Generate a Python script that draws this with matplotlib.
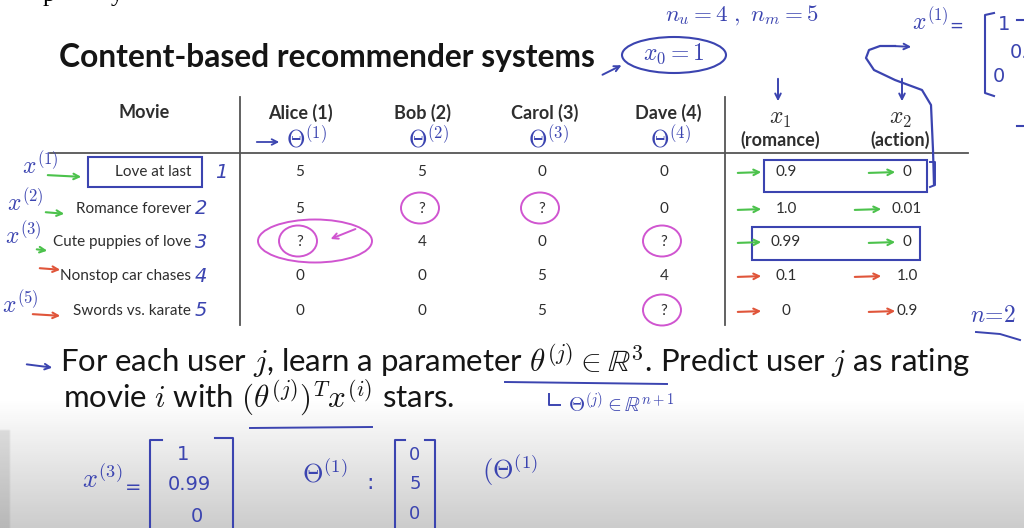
import numpy as np
import matplotlib.pyplot as plt
from matplotlib.patches import Ellipse, Rectangle

plt.rcParams['mathtext.fontset'] = 'cm'

# slide content
title = 'Content-based recommender systems'
movies = ['Love at last', 'Romance forever', 'Cute puppies of love',
          'Nonstop car chases', 'Swords vs. karate']
users = ['Alice (1)', 'Bob (2)', 'Carol (3)', 'Dave (4)']
alice = ['5', '5', '?', '0', '0']
bob = ['5', '?', '4', '0', '0']
carol = ['0', '?', '0', '5', '5']
dave = ['0', '0', '?', '4', '?']
x1 = ['0.9', '1.0', '0.99', '0.1', '0']
x2 = ['0', '0.01', '0', '1.0', '0.9']
ratings = [alice, bob, carol, dave]

PEN = '#3b44b0'
PINK = '#d055d0'
GREEN = '#4cc24c'
RED = '#e0553a'
INK = '#2e2e2e'
BODY = 'Lato'

fig = plt.figure(figsize=(10.24, 5.28), dpi=100)
ax = fig.add_axes([0, 0, 1, 1])
ax.set_xlim(0, 1024)
ax.set_ylim(528, 0)
ax.axis('off')
rend = fig.canvas.get_renderer()


def fit(t, width):
    # scale a text so that it spans the given number of pixels
    w = t.get_window_extent(rend).width
    t.set_fontsize(t.get_fontsize() * width / w)
    return t.get_fontsize()


# background: white with gray fade at the bottom
yy = np.linspace(0, 528, 264)
col = np.where(yy < 400, 1.0, 1.0 - 0.2 * ((yy - 400) / 128.0))
bg = np.tile(col[:, None], (1, 512))
bg[yy > 430, :5] *= 0.9
ax.imshow(bg, extent=[0, 1024, 528, 0], cmap='gray', vmin=0, vmax=1,
          aspect='auto', zorder=0, interpolation='bilinear')

# cut-off text line at the very top
ax.text(43, 1, 'p', fontsize=18, family='Liberation Serif', va='baseline')
ax.text(111, 1, 'y', fontsize=18, family='Liberation Serif', va='baseline')

t = ax.text(59, 67, title, fontsize=21, fontweight='bold', family=BODY,
            color='#151515', va='baseline')
fit(t, 536)

# table header
col_x = [300, 422, 542, 664]
head_x = [300, 422, 545, 668]
t = ax.text(head_x[0], 113, users[0], fontsize=12, fontweight='bold',
            family=BODY, color=INK, ha='center', va='center')
hs = fit(t, 64)
ax.text(144, 113, 'Movie', fontsize=hs, fontweight='bold', family=BODY,
        color=INK, ha='center', va='center')
for x, u in zip(head_x[1:], users[1:]):
    ax.text(x, 113, u, fontsize=hs, fontweight='bold', family=BODY,
            color=INK, ha='center', va='center')
ax.text(780, 118, r'$x_1$', fontsize=17, color=INK, ha='center', va='center')
ax.text(900, 118, r'$x_2$', fontsize=17, color=INK, ha='center', va='center')
ax.text(780, 140, '(romance)', fontsize=hs, fontweight='bold', family=BODY,
        color=INK, ha='center', va='center')
ax.text(900, 140, '(action)', fontsize=hs, fontweight='bold', family=BODY,
        color=INK, ha='center', va='center')

ax.plot([50, 968], [153, 153], color='#555555', lw=1.3)
ax.plot([240, 240], [97, 325], color='#555555', lw=1.3)
ax.plot([725, 725], [97, 325], color='#555555', lw=1.3)

row_y = [172, 209, 242, 276, 311]
t = ax.text(191, row_y[1], movies[1], fontsize=12, family=BODY, color=INK,
            ha='right', va='center')
ts = fit(t, 115)
for i, y in enumerate(row_y):
    if i != 1:
        ax.text(191, y, movies[i], fontsize=ts, family=BODY, color=INK,
                ha='right', va='center')
    ax.text(221 if i == 0 else 201, y, str(i + 1), fontsize=14, color=PEN,
            ha='center', va='center', style='italic')
    for x, r in zip(col_x, ratings):
        ax.text(x, y, r[i], fontsize=ts, family=BODY, color=INK,
                ha='center', va='center')
        if r[i] == '?':
            ax.add_patch(Ellipse((x - 2, y - 1), 38, 31, fill=False,
                                 ec=PINK, lw=1.4))
    ax.text(786, y, x1[i], fontsize=ts, family=BODY, color=INK,
            ha='center', va='center')
    ax.text(907, y, x2[i], fontsize=ts, family=BODY, color=INK,
            ha='center', va='center')
    c = GREEN if i < 3 else RED
    ax.annotate('', xy=(764, y), xytext=(735, y + 1),
                arrowprops=dict(arrowstyle='->', color=c, lw=1.5))
    xe = 898 - 14 * (i in (1, 3))
    ax.annotate('', xy=(xe, y), xytext=(xe - 32, y + 1),
                arrowprops=dict(arrowstyle='->', color=c, lw=1.5))

# handwritten left labels
for i, lab, lx in zip([0, 1, 2, 4], ['1', '2', '3', '5'], [40, 25, 23, 20]):
    ax.text(lx, row_y[i] - 6, r'$x^{(%s)}$' % lab, fontsize=17, color=PEN,
            ha='center', va='center')
arrow_x = [(45, 84), (43, 67), (34, 50), (37, 63), (30, 63)]
for i, (a, b) in enumerate(arrow_x):
    c = GREEN if i < 3 else RED
    ya = row_y[i] + 5 if i != 3 else row_y[i] - 6
    if i == 2:
        ya = row_y[i] + 9
    ax.annotate('', xy=(b, ya), xytext=(a, ya - 2),
                arrowprops=dict(arrowstyle='->', color=c, lw=1.5))
ax.add_patch(Rectangle((88, 157), 114, 30, fill=False, ec=PEN, lw=1.5))

# pink marks around Alice's missing rating
ax.add_patch(Ellipse((315, 241), 114, 43, fill=False, ec=PINK, lw=1.4))
ax.annotate('', xy=(328, 240), xytext=(358, 228),
            arrowprops=dict(arrowstyle='->', color=PINK, lw=1.4))

# theta labels under users
for k, x in enumerate(col_x):
    ax.text(x + 6, 139, r'$\Theta^{(%d)}$' % (k + 1), fontsize=17, color=PEN,
            ha='center', va='center')
ax.annotate('', xy=(282, 142), xytext=(254, 142),
            arrowprops=dict(arrowstyle='->', color=PEN, lw=1.3))

# top right notes
t = ax.text(665, 15, r'$n_u = 4\ ,\ n_m = 5$', fontsize=16, color=PEN,
            va='center')
fit(t, 154)
ax.add_patch(Ellipse((674, 55), 104, 36, fill=False, ec=PEN, lw=1.5))
ax.text(674, 54, r'$x_0 = 1$', fontsize=17, color=PEN, ha='center',
        va='center')
ax.annotate('', xy=(624, 64), xytext=(600, 76),
            arrowprops=dict(arrowstyle='->', color=PEN, lw=1.4))
for x in (778, 902):
    ax.annotate('', xy=(x, 104), xytext=(x, 76),
                arrowprops=dict(arrowstyle='->', color=PEN, lw=1.4))
ax.text(930, 22, r'$x^{(1)}$', fontsize=17, color=PEN, ha='center',
        va='center')
ax.text(956, 26, '=', fontsize=12, color=PEN, ha='center', va='center')
ax.plot([994, 985, 985, 994], [13, 15, 93, 96], color=PEN, lw=1.5)
ax.text(1004, 25, '1', fontsize=14, color=PEN, ha='center', va='center')
ax.text(1010, 52, '0.9', fontsize=14, color=PEN, ha='left', va='center')
ax.text(999, 76, '0', fontsize=14, color=PEN, ha='center', va='center')
ax.plot([1017, 1024], [20, 20], color=PEN, lw=1.5)
ax.plot([1017, 1024], [126, 126], color=PEN, lw=1.5)
curve_x = [934, 933, 931, 922, 895, 874, 866, 869, 880, 895]
curve_y = [185, 150, 105, 90, 80, 70, 58, 50, 46, 46]
ax.plot(curve_x, curve_y, color=PEN, lw=1.6)
ax.annotate('', xy=(914, 47), xytext=(893, 46),
            arrowprops=dict(arrowstyle='->', color=PEN, lw=1.4))

# boxes around feature rows
ax.add_patch(Rectangle((764, 160), 163, 32, fill=False, ec=PEN, lw=1.5))
ax.plot([930, 935, 935, 930], [162, 162, 185, 187], color=PEN, lw=1.4)
ax.add_patch(Rectangle((752, 227), 168, 33, fill=False, ec=PEN, lw=1.5))
ax.text(993, 315, r'$n\!=\!2$', fontsize=17, color=PEN, ha='center',
        va='center')
ax.plot([976, 1000, 1020], [332, 334, 340], color=PEN, lw=1.4)

# bottom text
line1 = (r'For each user $j$, learn a parameter $\theta^{(j)} \in \mathbb{R}^3$.'
         r' Predict user $j$ as rating')
line2 = r'movie $i$ with $(\theta^{(j)})^T x^{(i)}$ stars.'
t1 = ax.text(60, 373, line1, fontsize=19, family=BODY, color='#151515',
             va='baseline')
bs = fit(t1, 910)
ax.text(63, 408, line2, fontsize=bs, family=BODY, color='#151515',
        va='baseline')
ax.annotate('', xy=(55, 368), xytext=(24, 364),
            arrowprops=dict(arrowstyle='->', color=PEN, lw=1.4))
ax.plot([505, 667], [382, 384], color=PEN, lw=1.4)
ax.plot([250, 372], [428, 427], color=PEN, lw=1.4)
ax.plot([549, 549, 560], [394, 405, 405], color=PEN, lw=1.4)
ax.text(568, 404, r'$\Theta^{(j)} \in \mathbb{R}^{n+1}$', fontsize=15,
        color=PEN, va='center')

ax.text(102, 480, r'$x^{(3)}$', fontsize=19, color=PEN, ha='center',
        va='center')
ax.text(133, 487, '=', fontsize=14, color=PEN, ha='center', va='center')
ax.plot([162, 150, 150], [440, 440, 528], color=PEN, lw=1.5)
ax.plot([215, 233, 233], [438, 438, 528], color=PEN, lw=1.5)
ax.text(183, 454, '1', fontsize=14, color=PEN, ha='center', va='center')
ax.text(189, 484, '0.99', fontsize=14, color=PEN, ha='center', va='center')
ax.text(197, 517, '0', fontsize=14, color=PEN, ha='center', va='center')

ax.text(325, 474, r'$\Theta^{(1)}$', fontsize=19, color=PEN, ha='center',
        va='center')
ax.text(370, 483, ':', fontsize=16, color=PEN, ha='center', va='center')
ax.plot([405, 395, 395], [440, 440, 528], color=PEN, lw=1.5)
ax.plot([425, 435, 435], [440, 440, 528], color=PEN, lw=1.5)
ax.text(415, 455, '0', fontsize=13, color=PEN, ha='center', va='center')
ax.text(415, 484, '5', fontsize=13, color=PEN, ha='center', va='center')
ax.text(415, 514, '0', fontsize=13, color=PEN, ha='center', va='center')
ax.text(482, 470, r'$(\Theta^{(1)}$', fontsize=19, color=PEN, va='center')

fig.savefig('out.png', dpi=100)
